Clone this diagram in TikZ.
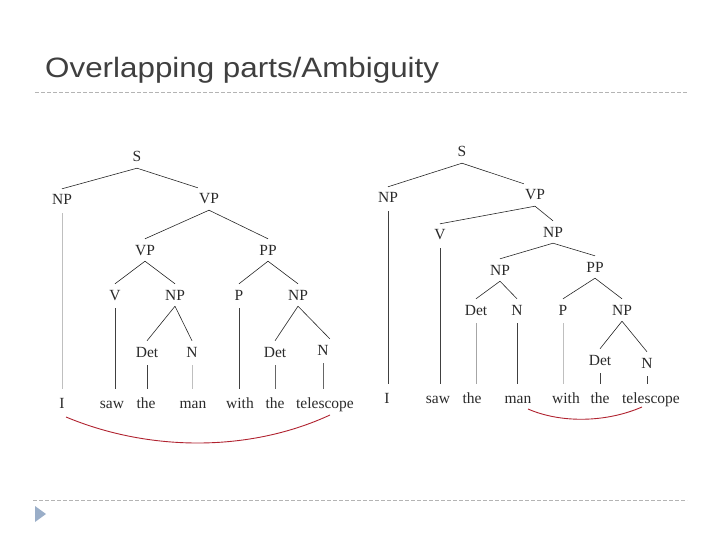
\documentclass[tikz,border=0pt]{standalone}
\usepackage{fontspec}
\setmainfont{Liberation Serif}
\newfontfamily\titlefont{Liberation Sans}
\newfontfamily\treefont{Liberation Serif}
\definecolor{titlec}{HTML}{3F3F3F}
\definecolor{labc}{HTML}{2A2A2A}
\definecolor{dashc}{HTML}{B4B4B4}
\definecolor{bulletc}{HTML}{9AAEC8}
\definecolor{arcc}{HTML}{B0222F}
\begin{document}
\begin{tikzpicture}[x=1pt,y=-1pt,
  lab/.style={font=\treefont\fontsize{15.5}{15.5}\selectfont, text=labc, inner xsep=1pt, inner ysep=6pt, text height=10pt, text depth=0pt, anchor=center},
  leaf/.style={lab},
  br/.style={draw=black!85, line width=0.6pt},
  vdark/.style={draw=black!75, line width=0.8pt, shorten <=2pt, shorten >=3pt},
  vlight/.style={draw=black!25, line width=0.7pt, shorten <=2pt, shorten >=3pt},
  sep/.style={draw=dashc, line width=0.8pt, dash pattern=on 4pt off 2pt},
  arc/.style={draw=arcc, line width=0.9pt}]
\useasboundingbox (0,0) rectangle (720,540);
% title and frame
\node[font=\titlefont\fontsize{28}{28}\selectfont, text=titlec, anchor=base west, inner sep=0pt, xscale=1.12] (title) at (45,78) {Overlapping parts/Ambiguity};
\coordinate (t1) at (35,92); \coordinate (t2) at (687,92);
\coordinate (b1) at (33,500); \coordinate (b2) at (687,500);
\draw[sep] (t1) -- (t2);
\draw[sep] (b1) -- (b2);
\fill[bulletc] (35,506) -- (46,514) -- (35,522) -- cycle;

% ---------- left tree ----------
\node[lab] (lS) at (137,157) {S};
\node[lab] (lNP) at (62,200) {NP};
\node[lab] (lVP) at (209,199) {VP};
\node[lab] (lVPb) at (145,250) {VP};
\node[lab] (lPP) at (268,250) {PP};
\node[lab] (lV) at (115,295) {V};
\node[lab] (lNPb) at (175,295) {NP};
\node[lab] (lP) at (239,295) {P};
\node[lab] (lNPc) at (298,295) {NP};
\node[lab] (lDeta) at (147,352) {Det};
\node[lab] (lNa) at (192,352) {N};
\node[lab] (lDetb) at (275,352) {Det};
\node[lab] (lNb) at (323,350) {N};
\node[leaf] (lw1) at (62,403) {I};
\node[leaf] (lw2) at (112,403) {saw};
\node[leaf] (lw3) at (146,403) {the};
\node[leaf] (lw4) at (193,403) {man};
\node[leaf] (lw5) at (240,403) {with};
\node[leaf] (lw6) at (275,403) {the};
\node[leaf] (lw7) at (325,403) {telescope};

\draw[br] (lS.south) -- (lNP.north);
\draw[br] (lS.south) -- (lVP.north west);
\draw[br] (lVP.south) -- (lVPb.north);
\draw[br] (lVP.south) -- (lPP.north);
\draw[br] (lVPb.south) -- (lV.north);
\draw[br] (lVPb.south) -- (lNPb.north);
\draw[br] (lPP.south) -- (lP.north);
\draw[br] (lPP.south) -- (lNPc.north);
\draw[br] (lNPb.south) -- (lDeta.north);
\draw[br] (lNPb.south) -- (lNa.north);
\draw[br] (lNPc.south) -- (lDetb.north);
\draw[br] (lNPc.south) -- (lNb.north east);
\draw[vlight] (lNP.south) -- (lNP.south |- lw1.north);
\draw[vdark] (lV.south) -- (lV.south |- lw2.north);
\draw[vdark] (lDeta.south) -- (lDeta.south |- lw3.north);
\draw[vlight] (lNa.south) -- (lNa.south |- lw4.north);
\draw[vdark] (lP.south) -- (lP.south |- lw5.north);
\draw[vdark, draw=black!60] (lDetb.south) -- (lDetb.south |- lw6.north);
\draw[vdark, draw=black!60] (lNb.south) -- (lNb.south |- lw7.north);

\coordinate (la) at (66,417);
\coordinate (lb) at (330,415);
\draw[arc] (la) .. controls (150,452) and (250,452) .. (lb);

% ---------- right tree ----------
\node[lab] (rS) at (462,152) {S};
\node[lab] (rNP) at (388,198) {NP};
\node[lab] (rVP) at (535,195) {VP};
\node[lab] (rV) at (440,235) {V};
\node[lab] (rNPb) at (553,232) {NP};
\node[lab] (rNPc) at (500,270) {NP};
\node[lab] (rPP) at (595,267) {PP};
\node[lab] (rDet) at (476,310) {Det};
\node[lab] (rN) at (517,310) {N};
\node[lab] (rP) at (563,310) {P};
\node[lab] (rNPd) at (622,310) {NP};
\node[lab] (rDetb) at (600,360) {Det};
\node[lab] (rNb) at (647,363) {N};
\node[leaf] (rw1) at (387,398) {I};
\node[leaf] (rw2) at (438,398) {saw};
\node[leaf] (rw3) at (472,398) {the};
\node[leaf] (rw4) at (518,398) {man};
\node[leaf] (rw5) at (566,398) {with};
\node[leaf] (rw6) at (600,398) {the};
\node[leaf] (rw7) at (651,398) {telescope};

\draw[br] (rS.south) -- (rNP.north);
\draw[br] (rS.south) -- (rVP.north west);
\draw[br] (rVP.south) -- (rV.north);
\draw[br] (rVP.south) -- (rNPb.north);
\draw[br] (rNPb.south) -- (rNPc.north);
\draw[br] (rNPb.south) -- (rPP.north);
\draw[br] (rNPc.south) -- (rDet.north);
\draw[br] (rNPc.south) -- (rN.north);
\draw[br] (rPP.south) -- (rP.north);
\draw[br] (rPP.south) -- (rNPd.north);
\draw[br] (rNPd.south) -- (rDetb.north);
\draw[br] (rNPd.south) -- (rNb.north);
\draw[vdark] (rNP.south) -- (rNP.south |- rw1.north);
\draw[vdark] (rV.south) -- (rV.south |- rw2.north);
\draw[vlight, draw=black!35] (rDet.south) -- (rDet.south |- rw3.north);
\draw[vdark] (rN.south) -- (rN.south |- rw4.north);
\draw[vlight] (rP.south) -- (rP.south |- rw5.north);
\draw[vdark] (rDetb.south) -- (rDetb.south |- rw6.north);
\draw[vdark] (rNb.south) -- (rNb.south |- rw7.north);

\coordinate (ra) at (528,409);
\coordinate (rb) at (642,407);
\draw[arc] (ra) .. controls (560,423) and (605,423) .. (rb);
\end{tikzpicture}
\end{document}
